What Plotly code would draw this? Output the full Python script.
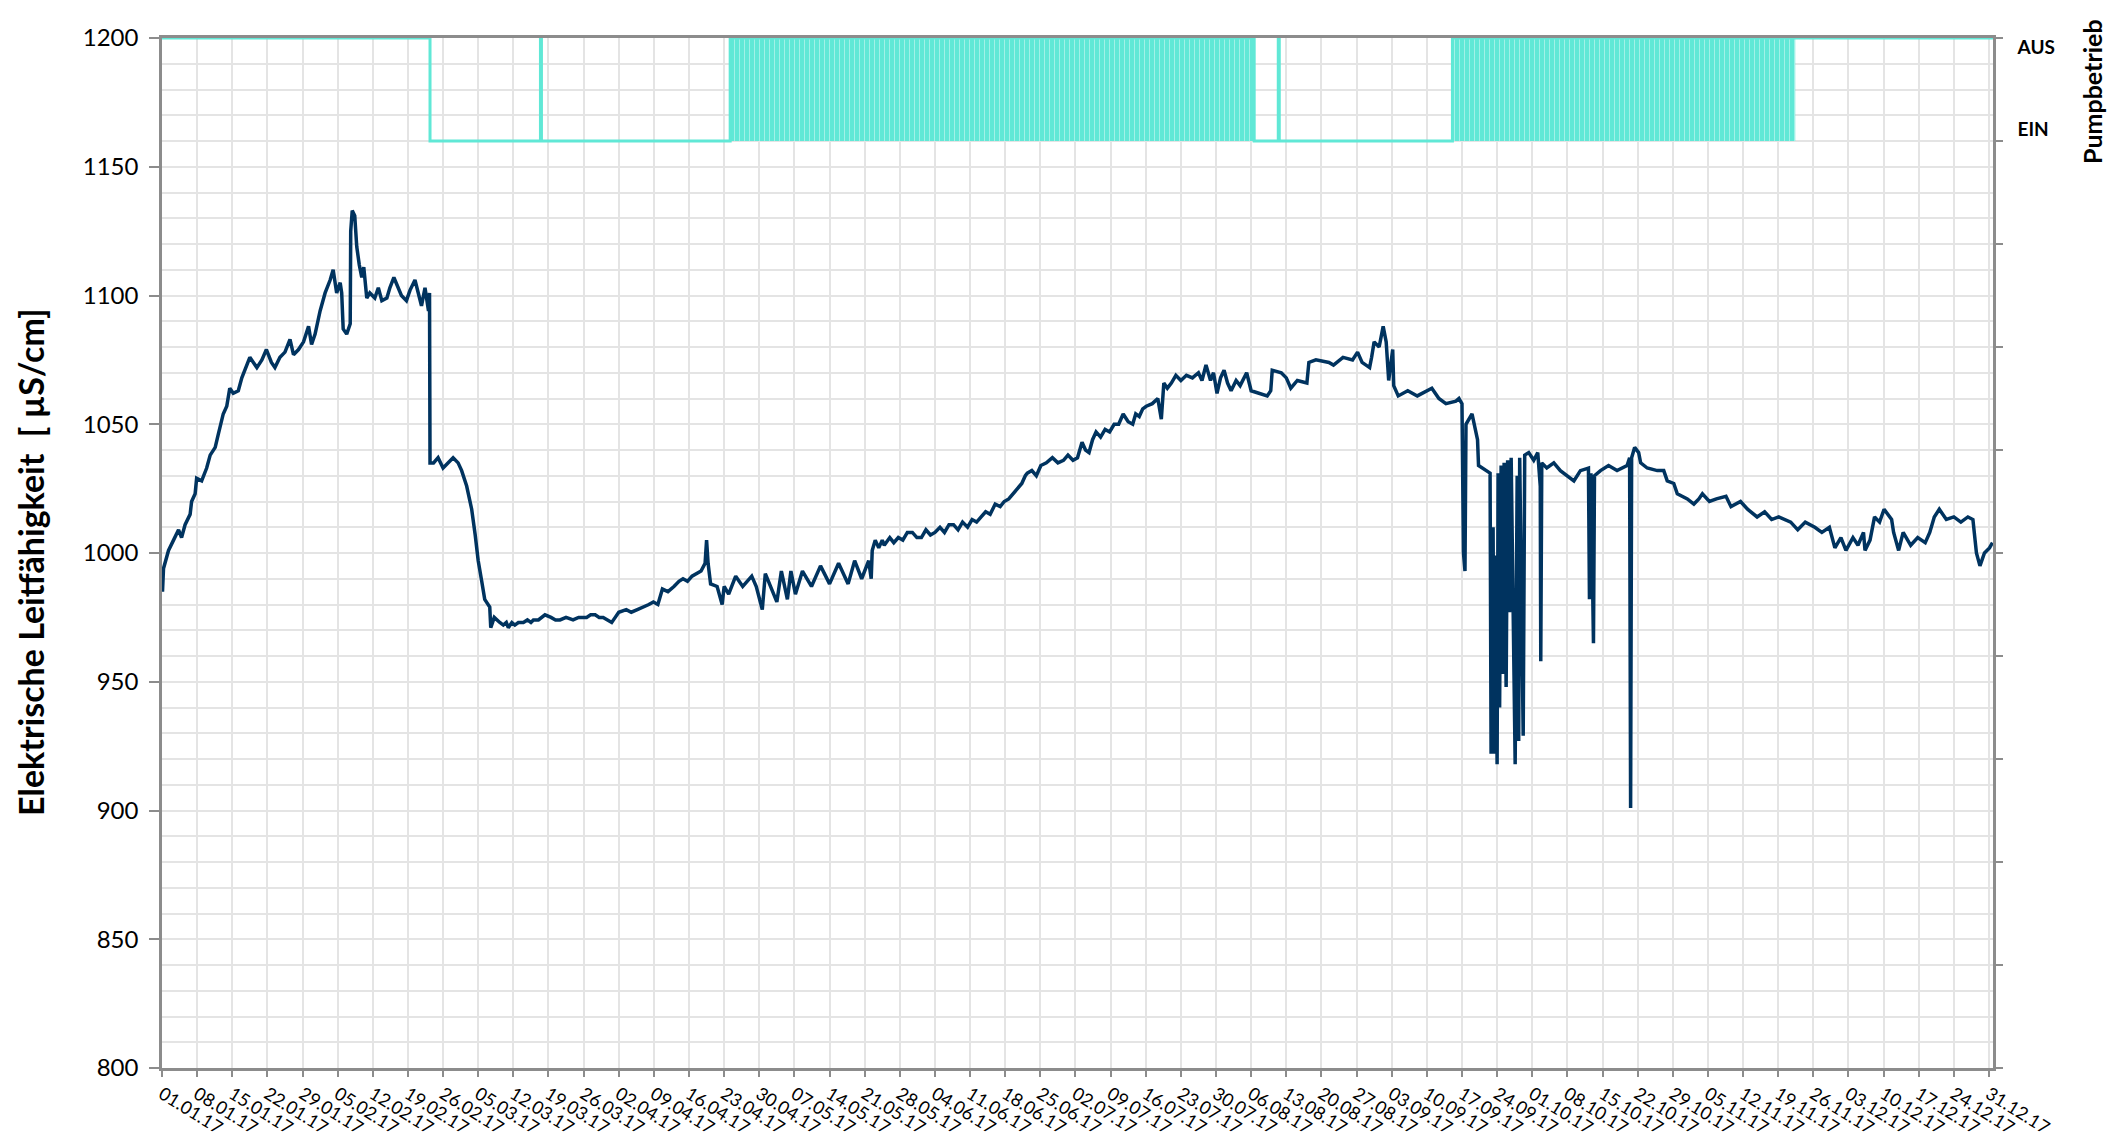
import pandas as pd
import plotly.graph_objects as go

START = pd.Timestamp("2017-01-01")

# ---- Elektrische Leitfähigkeit (day offset from 01.01.2017, value in µS/cm)
lf_days = [
    0.0, 0.1, 0.3, 1.3, 2.3, 3.3, 3.9, 4.6, 5.6, 5.9, 6.6, 6.9, 7.9, 8.9, 9.6, 10.6,
    11.2, 11.6, 12.2, 12.9, 13.5, 14.2, 15.2, 15.9, 16.5, 17.5, 18.9, 19.9, 20.8, 21.8,
    22.5, 23.5, 24.5, 25.5, 26.2, 27.2, 28.2, 29.2, 29.8, 30.5, 31.5, 32.5, 33.5, 34.1,
    34.8, 35.5, 35.8, 36.1, 36.8, 37.5, 37.6, 37.9, 38.4, 38.8, 39.3, 39.8, 40.2, 40.8,
    41.4, 42.4, 43.1, 43.8, 44.8, 45.4, 46.2, 47.1, 47.7, 48.7, 49.4, 50.4, 51.1, 51.7,
    52.4, 53.1, 53.3, 53.4, 54.1, 55.0, 56.0, 57.0, 58.0, 59.0, 59.7, 60.7, 61.7, 62.4,
    63.0, 63.7, 64.3,
    65.3, 65.5, 66.2, 66.7, 67.3, 68.0, 68.6, 69.0, 69.7, 70.3,
    71.0, 72.0, 72.8, 73.5, 74.0, 75.0, 76.3, 77.5, 78.4, 79.3,
    80.5, 81.9, 83.0, 84.6, 85.4, 86.3, 87.1, 87.9, 88.8, 89.6,
    90.3, 91.0, 92.5, 93.5, 94.7, 96.0, 97.0, 97.9, 98.8, 99.7,
    100.8, 102.0, 103.0, 103.8, 104.7, 105.6, 106.5, 107.4, 108.2,
    108.5, 108.8, 109.3, 110.6, 111.6, 112.0, 112.9, 114.3, 115.7, 117.5, 118.4,
    119.6, 120.2, 122.5, 123.4, 124.6, 125.3, 126.2, 127.6, 129.4, 131.2, 133.0, 134.8,
    136.7, 138.0, 139.4, 140.8, 141.3, 141.4, 141.5, 142.1, 142.8, 143.5, 143.9, 145.0,
    145.8, 146.7, 147.6, 148.5, 149.5, 150.4, 151.3, 152.2, 153.1, 154.0, 155.0, 155.9,
    156.8, 157.7, 158.6, 159.5, 160.5, 161.4, 162.3, 163.2, 164.1, 165.0, 166.0, 167.0,
    167.8, 168.7, 169.6, 170.5, 171.3, 172.0, 172.4, 173.3, 174.2, 175.1, 176.2, 177.4,
    178.5, 179.6, 180.5, 181.5, 182.4, 183.3, 184.0, 184.7, 185.4, 186.1, 187.0, 187.9,
    188.8, 189.7, 190.6, 191.5, 192.5, 193.4, 194.0, 194.7, 195.4, 196.1, 197.3, 198.4,
    199.1, 199.6, 200.3, 201.1, 202.0, 203.0, 204.1, 205.3, 206.5, 207.2, 208.0, 208.9,
    209.5, 210.2, 210.9, 211.6, 212.3, 213.0, 214.0, 214.8, 215.5, 216.1, 217.0, 218.9,
    220.2, 220.9, 221.2, 223.0, 224.0, 224.9, 226.2, 228.1, 228.5, 229.9, 232.5, 233.4,
    235.3, 237.2, 238.2, 239.1, 240.6, 241.0, 241.5, 242.5, 243.3, 243.9, 244.4, 245.2,
    245.4, 246.3, 248.2, 250.1, 252.0, 253.0, 254.4, 255.8, 257.8, 258.4, 259.0, 259.3,
    259.6, 259.8, 261.0, 262.1, 262.3, 264.6, 264.8, 265.2, 265.4, 265.7, 266.0, 266.2,
    266.5, 266.8, 267.1, 267.4, 267.8, 268.1, 268.5, 268.8, 269.6, 270.0, 270.3, 270.5,
    271.2, 271.5, 272.3, 273.3, 274.1, 274.6, 274.7, 274.9, 275.9, 277.3, 278.6, 279.9,
    281.3, 282.6, 284.2, 284.4, 284.7, 285.2, 285.4, 286.6, 288.2, 289.9, 291.9, 292.4,
    292.6, 292.8, 293.4, 294.2, 294.6, 295.9, 297.9, 299.2, 299.9, 301.2, 301.9, 303.9,
    305.2, 306.2, 306.9, 308.3, 309.7, 311.6, 312.6, 314.5, 315.9, 317.8, 319.3, 320.7,
    322.1, 324.5, 325.9, 327.4, 329.3, 330.7, 332.2, 333.3, 334.5, 335.5, 336.9, 337.9,
    339.0, 339.3, 340.3, 341.2, 342.2, 343.1, 344.6, 345.0, 346.0, 346.9, 348.4, 349.8,
    351.3, 352.2, 353.1, 354.1, 355.5, 357.0, 358.4, 359.8, 360.8, 361.5, 362.2, 363.1,
    364.1, 364.7,
]
lf_values = [
    990, 985, 994, 1001, 1005, 1009, 1006, 1011, 1015, 1020, 1023, 1029, 1028, 1033, 1038, 1041,
    1046, 1049, 1054, 1057, 1064, 1062, 1063, 1068, 1071, 1076, 1072, 1075, 1079, 1074,
    1072, 1076, 1078, 1083, 1077, 1079, 1082, 1088, 1081, 1085, 1094, 1101, 1106, 1110,
    1101, 1105, 1101, 1087, 1085, 1089, 1125, 1133, 1131, 1119, 1112, 1107, 1111, 1099,
    1101, 1099, 1103, 1098, 1099, 1103, 1107, 1103, 1100, 1098, 1102, 1106, 1101, 1096,
    1103, 1094, 1101, 1035, 1035, 1037, 1033, 1035, 1037, 1035, 1032, 1026, 1017, 1007,
    997, 989, 982,
    979, 971, 975, 974, 973, 972, 973, 971, 973, 972,
    973, 973, 974, 973, 974, 974, 976, 975, 974, 974,
    975, 974, 975, 975, 976, 976, 975, 975, 974, 973,
    975, 977, 978, 977, 978, 979, 980, 981, 980, 986,
    985, 987, 989, 990, 989, 991, 992, 993, 996,
    1005, 996, 988, 987, 980, 987, 984, 991, 987, 991, 987,
    978, 992, 981, 993, 982, 993, 984, 993, 987, 995, 988, 996,
    988, 997, 990, 997, 990, 999, 1001, 1005, 1002, 1005, 1003, 1006,
    1004, 1006, 1005, 1008, 1008, 1006, 1006, 1009, 1007, 1008, 1010, 1008,
    1011, 1011, 1009, 1012, 1010, 1013, 1012, 1014, 1016, 1015, 1019, 1018,
    1020, 1021, 1023, 1025, 1027, 1030, 1031, 1032, 1030, 1034, 1035, 1037,
    1035, 1036, 1038, 1036, 1037, 1043, 1040, 1039, 1044, 1047, 1045, 1048,
    1047, 1050, 1050, 1054, 1051, 1050, 1054, 1053, 1056, 1057, 1058, 1060,
    1052, 1066, 1064, 1066, 1069, 1067, 1069, 1068, 1070, 1067, 1073, 1067,
    1070, 1062, 1068, 1071, 1066, 1063, 1067, 1065, 1068, 1070, 1063, 1062,
    1061, 1063, 1071, 1070, 1068, 1064, 1067, 1066, 1074, 1075, 1074, 1073,
    1076, 1075, 1078, 1074, 1072, 1076, 1082, 1080, 1088, 1082, 1067, 1079,
    1065, 1061, 1063, 1061, 1063, 1064, 1060, 1058, 1059, 1060, 1058, 1000,
    993, 1050, 1054, 1044, 1034, 1031, 922, 1010, 922, 999, 918, 1031,
    940, 1034, 953, 1035, 948, 1036, 977, 1037, 918, 1030, 927, 1037,
    929, 1038, 1039, 1036, 1039, 1026, 958, 1035, 1033, 1035, 1032, 1030,
    1028, 1032, 1033, 982, 1031, 965, 1030, 1032, 1034, 1032, 1034, 1037,
    901, 1037, 1041, 1039, 1035, 1033, 1032, 1032, 1028, 1027, 1023, 1021,
    1019, 1021, 1023, 1020, 1021, 1022, 1018, 1020, 1017, 1014, 1016, 1013,
    1014, 1012, 1009, 1012, 1010, 1008, 1010, 1002, 1006, 1001, 1006, 1003,
    1008, 1001, 1005, 1014, 1012, 1017, 1013, 1008, 1001, 1008, 1003, 1006,
    1004, 1008, 1014, 1017, 1013, 1014, 1012, 1014, 1013, 1000, 995, 1000,
    1002, 1004,
]

# ---- Pumpbetrieb (switch points, day offset from 01.01.2017)
pump_days = [0.0, 53.4, 75.4, 75.6, 113.2, 217.6, 222.4, 222.6, 257.1, 325.4, 364.8]
pump_states = ["AUS", "EIN", "AUS", "EIN", "TAKT", "EIN", "AUS", "EIN", "TAKT", "AUS", "AUS"]
pump_levels = {"AUS": 1, "EIN": 0, "TAKT": 1}

# axis tick labels
y_ticks = [800, 850, 900, 950, 1000, 1050, 1100, 1150, 1200]
y2_labels = ["EIN", "AUS"]

# ---- layout constants (pixels)
W, H = 2125, 1144
L, R, T, B = 162, 132, 38, 76
PW = W - L - R
PH = H - T - B

NAVY = "#00335f"
TURQ = "#60e8d6"
GRID = "#e4e4e4"
AXIS = "#8c8c8c"
FONT = "Lato"


def to_dt(days):
    return START + pd.to_timedelta(pd.Series(days, dtype=float), unit="D")


fig = go.Figure()

# cycling pump blocks (filled)
for i, st in enumerate(pump_states):
    if st == "TAKT":
        s, e = pump_days[i], pump_days[i + 1]
        fig.add_trace(go.Scatter(
            x=to_dt([s, s, e, e, s]), y=[0, 1, 1, 0, 0], yaxis="y2",
            mode="lines", fill="toself", fillcolor=TURQ,
            fillpattern=dict(shape="|", bgcolor=TURQ, fgcolor="white",
                             fgopacity=0.55, size=5, solidity=0.15),
            line=dict(width=0), hoverinfo="skip", showlegend=False,
        ))

# pump step line
fig.add_trace(go.Scatter(
    x=to_dt(pump_days), y=[pump_levels[s] for s in pump_states], yaxis="y2",
    mode="lines", line=dict(color=TURQ, width=3, shape="hv"),
    showlegend=False, name="Pumpbetrieb",
))

# conductivity
fig.add_trace(go.Scatter(
    x=to_dt(lf_days), y=lf_values, mode="lines",
    line=dict(color=NAVY, width=3.5), showlegend=False,
    name="Elektrische Leitfähigkeit",
))

x_end = START + pd.Timedelta(days=364.8)

fig.update_layout(
    width=W, height=H,
    margin=dict(l=L, r=R, t=T, b=B, pad=0, autoexpand=False),
    paper_bgcolor="white", plot_bgcolor="white",
    font=dict(family=FONT, color="black"),
    xaxis=dict(
        type="date", range=[START, x_end],
        tick0=START, dtick=7 * 86400000, tickformat="%d.%m.%y",
        tickangle=32, tickfont=dict(size=18, family=FONT),
        ticks="outside", ticklen=6, tickcolor=AXIS, tickwidth=1.5,
        showgrid=True, gridcolor=GRID, gridwidth=1.5,
        showline=True, linecolor=AXIS, linewidth=2.5, mirror=True,
        zeroline=False, layer="below traces", automargin=False,
    ),
    yaxis=dict(
        range=[800, 1200], tickvals=y_ticks,
        tickfont=dict(size=24, family=FONT),
        ticks="outside", ticklen=10, tickcolor=AXIS, tickwidth=1.5,
        showgrid=True, gridcolor=GRID, gridwidth=1.5,
        minor=dict(dtick=10, showgrid=True, gridcolor=GRID, gridwidth=1.5),
        showline=True, linecolor=AXIS, linewidth=2.5,
        zeroline=False, layer="below traces", ticklabelstandoff=6,
        automargin=False,
    ),
    yaxis2=dict(
        overlaying="y", side="right", range=[-9, 1],
        tickmode="array", tickvals=[0.11, 0.91], ticktext=y2_labels,
        tickfont=dict(size=19, family=FONT, weight="bold"),
        ticks="", ticklabelstandoff=18,
        minor=dict(tickmode="array", tickvals=list(range(-9, 2)),
                   ticks="outside", ticklen=7, tickcolor=AXIS, tickwidth=1.5,
                   showgrid=False),
        showgrid=False, showline=True, linecolor=AXIS, linewidth=2.5,
        zeroline=False, layer="below traces", automargin=False,
    ),
    annotations=[
        dict(text="Elektrische Leitfähigkeit  [ µS/cm]", textangle=-90,
             xref="paper", yref="paper",
             x=(30 - L) / PW, y=(H - B - 562) / PH,
             xanchor="center", yanchor="middle", showarrow=False,
             font=dict(size=34, family=FONT, weight="bold", color="black")),
        dict(text="Pumpbetrieb", textangle=-90,
             xref="paper", yref="paper",
             x=(2092 - L) / PW, y=(H - B - 92) / PH,
             xanchor="center", yanchor="middle", showarrow=False,
             font=dict(size=25, family=FONT, weight="bold", color="black")),
    ],
)

fig.write_html("out.html", config={"displayModeBar": False},
               post_script="document.body.style.margin='0';")
